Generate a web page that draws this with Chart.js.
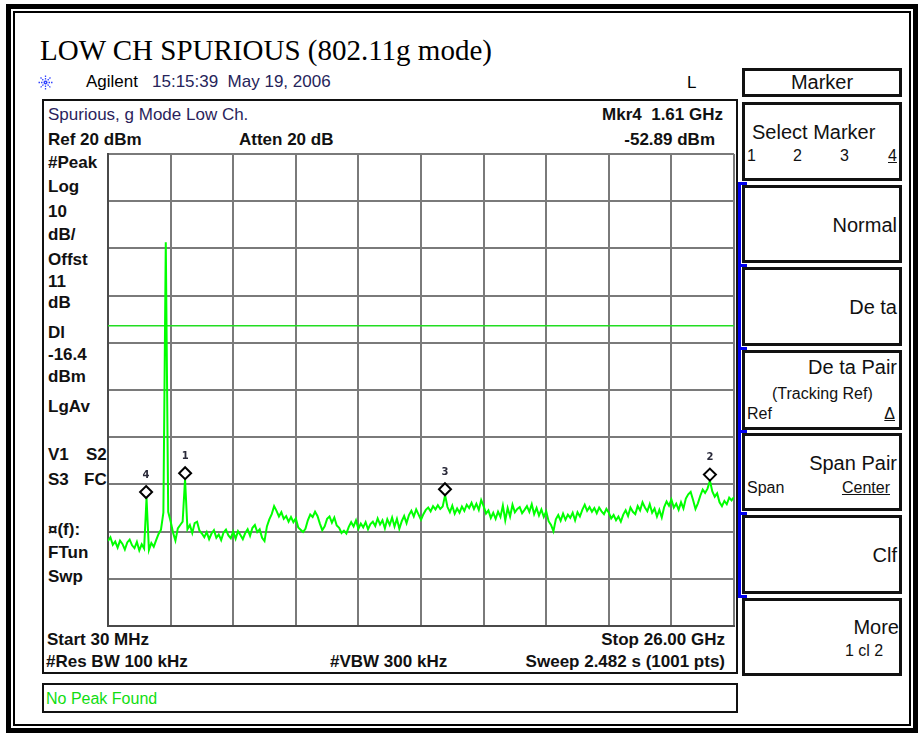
<!DOCTYPE html>
<html>
<head>
<meta charset="utf-8">
<script src="https://cdn.jsdelivr.net/npm/chart.js@4/dist/chart.umd.min.js"></script>
<style>
  html, body { margin: 0; padding: 0; background: #fff; }
  body { width: 923px; height: 738px; position: relative; overflow: hidden; font-family: "Liberation Sans", Arial, sans-serif; }
  .abs { position: absolute; white-space: pre; }
  .t17 { font-size: 17px; line-height: 20px; color: #111; }
  .b17 { font-size: 17px; line-height: 20px; font-weight: bold; color: #111; }
  .t20 { font-size: 20px; line-height: 24px; color: #111; }
  .t16 { font-size: 16px; line-height: 19px; color: #111; }
  .box { position: absolute; box-sizing: border-box; border: 3px solid #111; background: #fff; }
  .nub { position: absolute; left: 738px; width: 9px; height: 3px; background: #0000ee; }
  #grafico { position: absolute; left: 106px; top: 152px; }
</style>
</head>
<body>

<!-- marco exterior doble -->
<div style="position:absolute;left:6px;top:4px;width:912px;height:729px;box-sizing:border-box;border:5px solid #000;"></div>
<div style="position:absolute;left:13px;top:11px;width:898px;height:715px;box-sizing:border-box;border:2px solid #000;"></div>

<div class="abs" style="left:40px;top:33px;font-family:'Liberation Serif','Times New Roman',serif;font-size:29px;line-height:34px;color:#000;">LOW CH SPURIOUS (802.11g mode)</div>

<svg class="abs" style="left:38px;top:75px;" width="15" height="15" viewBox="0 0 15 15">
  <g stroke="#3344ff" stroke-width="1.3" stroke-dasharray="1.5 1">
    <line x1="7.5" y1="0.5" x2="7.5" y2="14.5"/><line x1="0.5" y1="7.5" x2="14.5" y2="7.5"/>
    <line x1="2.5" y1="2.5" x2="12.5" y2="12.5"/><line x1="12.5" y1="2.5" x2="2.5" y2="12.5"/>
  </g>
</svg>
<div class="abs t17" style="left:86px;top:72px;color:#000;">Agilent</div>
<div class="abs t17" style="left:152px;top:72px;color:#26245a;">15:15:39  May 19, 2006</div>
<div class="abs t17" style="left:687px;top:73px;color:#000;">L</div>

<!-- pantalla principal -->
<div style="position:absolute;left:42px;top:99px;width:696px;height:575px;box-sizing:border-box;border:2px solid #111;"></div>
<div class="abs t17" style="left:48px;top:105px;color:#2b1f5c;">Spurious, g Mode Low Ch.</div>
<div class="abs b17" style="left:48px;top:130px;">Ref 20 dBm</div>
<div class="abs b17" style="left:239px;top:130px;">Atten 20 dB</div>
<div class="abs b17" style="right:200px;top:105px;">Mkr4  1.61 GHz</div>
<div class="abs b17" style="right:208px;top:130px;">-52.89 dBm</div>

<div class="abs b17" style="left:48px;top:153px;">#Peak</div>
<div class="abs b17" style="left:48px;top:177px;">Log</div>
<div class="abs b17" style="left:48px;top:202px;">10</div>
<div class="abs b17" style="left:48px;top:225px;">dB/</div>
<div class="abs b17" style="left:48px;top:250px;">Offst</div>
<div class="abs b17" style="left:48px;top:272px;">11</div>
<div class="abs b17" style="left:48px;top:293px;">dB</div>
<div class="abs b17" style="left:48px;top:323px;">Dl</div>
<div class="abs b17" style="left:48px;top:345px;">-16.4</div>
<div class="abs b17" style="left:48px;top:367px;">dBm</div>
<div class="abs b17" style="left:48px;top:397px;">LgAv</div>
<div class="abs b17" style="left:48px;top:445px;">V1</div>
<div class="abs b17" style="left:86px;top:445px;">S2</div>
<div class="abs b17" style="left:48px;top:470px;">S3</div>
<div class="abs b17" style="left:84px;top:470px;">FC</div>
<div class="abs b17" style="left:48px;top:520px;">¤(f):</div>
<div class="abs b17" style="left:48px;top:543px;">FTun</div>
<div class="abs b17" style="left:48px;top:567px;">Swp</div>

<div class="abs b17" style="left:47px;top:630px;">Start 30 MHz</div>
<div class="abs b17" style="right:198px;top:630px;">Stop 26.00 GHz</div>
<div class="abs b17" style="left:46px;top:652px;">#Res BW 100 kHz</div>
<div class="abs b17" style="left:330px;top:652px;">#VBW 300 kHz</div>
<div class="abs b17" style="right:198px;top:652px;">Sweep 2.482 s (1001 pts)</div>

<div style="position:absolute;left:42px;top:683px;width:696px;height:30px;box-sizing:border-box;border:2px solid #111;"></div>
<div class="abs t16" style="left:46px;top:689px;color:#11dd11;">No Peak Found</div>

<canvas id="grafico" width="630" height="476"></canvas>

<!-- teclas -->
<div class="box" style="left:742px;top:68px;width:160px;height:29px;"></div>
<div class="box" style="left:742px;top:102px;width:160px;height:79px;"></div>
<div class="box" style="left:742px;top:185px;width:160px;height:78px;"></div>
<div class="box" style="left:742px;top:267px;width:160px;height:79px;"></div>
<div class="box" style="left:742px;top:350px;width:160px;height:80px;"></div>
<div class="box" style="left:742px;top:433px;width:160px;height:78px;"></div>
<div class="box" style="left:742px;top:515px;width:160px;height:79px;"></div>
<div class="box" style="left:742px;top:598px;width:160px;height:78px;"></div>
<div style="position:absolute;left:738px;top:182px;width:3px;height:415px;background:#0000ee;"></div>
<div class="nub" style="top:182px;"></div>
<div class="nub" style="top:264px;"></div>
<div class="nub" style="top:347px;"></div>
<div class="nub" style="top:430px;"></div>
<div class="nub" style="top:512px;"></div>
<div class="nub" style="top:595px;"></div>

<div class="abs t20" style="left:742px;width:160px;text-align:center;top:70px;">Marker</div>
<div class="abs t20" style="left:752px;top:120px;">Select Marker</div>
<div class="abs t16" style="left:747px;top:146px;">1</div>
<div class="abs t16" style="left:793px;top:146px;">2</div>
<div class="abs t16" style="left:840px;top:146px;">3</div>
<div class="abs t16" style="left:888px;top:146px;text-decoration:underline;">4</div>
<div class="abs t20" style="right:26px;top:213px;">Normal</div>
<div class="abs t20" style="right:26px;top:295px;">De ta</div>
<div class="abs t20" style="right:26px;top:355px;">De ta Pair</div>
<div class="abs t16" style="left:772px;top:384px;">(Tracking Ref)</div>
<div class="abs t16" style="left:747px;top:404px;">Ref</div>
<div class="abs t16" style="right:28px;top:404px;text-decoration:underline;">Δ</div>
<div class="abs t20" style="right:26px;top:451px;">Span Pair</div>
<div class="abs t16" style="left:747px;top:478px;">Span</div>
<div class="abs t16" style="right:33px;top:478px;text-decoration:underline;">Center</div>
<div class="abs t20" style="right:26px;top:543px;">Clf</div>
<div class="abs t20" style="right:24px;top:615px;">More</div>
<div class="abs t16" style="left:845px;top:641px;">1 cl 2</div>

<script>
// barrido 30 MHz - 26 GHz (dBm)
const startGHz = 0.03;
const stopGHz = 26.0;
const refLevel = 20;
const bottomLevel = -80;
const numDivs = 10;
const displayLine = -16.4;

const traceDbm = [
  -62.0, -61.2, -62.8, -62.1, -63.4, -61.9, -62.6, -63.8, -62.3, -61.7,
  -62.9, -63.5, -62.2, -64.0, -62.7, -63.6, -52.9, -63.9, -62.4, -63.2,
  -61.8, -60.5, -59.6, -56.0, 1.3, -55.8, -57.8, -60.2, -61.9, -59.3,
  -58.6, -57.9, -48.9, -59.5, -58.6, -60.3, -58.2, -57.9, -59.8, -60.4,
  -61.2, -60.1, -61.6, -60.4, -59.7, -61.3, -60.6, -61.8, -60.2, -59.6,
  -60.8, -61.4, -60.0, -61.5, -59.9, -60.7, -61.6, -60.3, -59.5, -60.9,
  -59.2, -58.6, -60.1, -59.5, -61.3, -62.0, -58.9, -57.4, -56.3, -54.6,
  -55.6, -56.8, -55.9, -57.3, -56.7, -57.9, -56.9, -58.0, -57.2, -59.1,
  -59.6, -60.1, -59.4, -57.6, -56.4, -56.9, -55.8, -56.7, -58.3, -59.7,
  -58.9, -57.3, -56.8, -58.1, -57.0, -58.7, -59.2, -60.3, -59.8, -60.4,
  -59.0, -58.0, -58.9, -57.6, -59.4, -58.3, -59.1, -58.0, -59.5, -58.4,
  -57.9, -58.8, -57.2, -58.5, -57.6, -59.3, -57.4, -58.6, -57.0, -58.9,
  -57.3, -59.4, -57.8, -56.7, -58.2, -56.5, -55.6, -56.8, -55.3, -56.4,
  -57.5, -56.3, -55.4, -54.9, -55.7, -54.6, -55.3, -54.4, -55.2, -54.7,
  -52.3, -54.8, -55.9, -54.5, -56.2, -55.1, -56.0, -54.7, -55.6, -54.3,
  -55.0, -53.9, -55.2, -54.1, -55.4, -53.3, -54.6, -56.2, -55.5, -57.1,
  -56.0, -57.3, -55.8, -56.9, -54.5, -57.6, -55.0, -56.8, -54.3, -55.9,
  -55.2, -54.8, -56.1, -55.4, -54.6, -55.8, -54.2, -56.3, -55.0, -56.6,
  -55.3, -56.9, -55.7, -57.8, -58.6, -59.9, -57.4, -56.5, -57.7, -56.2,
  -57.5, -56.4, -57.1, -56.0, -57.6, -55.9, -56.8, -55.4, -54.3, -55.6,
  -54.8, -55.8, -55.0, -56.1, -54.9, -55.7, -56.3, -55.2, -56.0, -57.2,
  -56.5, -57.6, -56.8, -57.9, -56.4, -55.5, -56.7, -54.9, -55.8, -56.3,
  -54.6, -55.5, -53.8, -54.9, -55.7, -54.2, -56.0, -55.1, -56.8, -55.4,
  -57.0, -54.8, -53.6, -54.5, -53.2, -54.9, -54.1, -55.4, -53.8, -55.1,
  -53.0, -52.1, -51.6, -53.3, -55.2, -54.0, -52.4, -51.1, -51.8, -50.9,
  -49.2, -51.5, -52.6, -51.9, -53.8, -54.6, -53.5, -54.2, -52.8, -53.4,
  -52.7
];

const markerIds = ["1", "2", "3", "4"];
const markerGHz = [3.23, 25.0, 14.01, 1.61];
const markerDbm = [-48.9, -49.2, -52.3, -52.89];

const paso = (stopGHz - startGHz) / (traceDbm.length - 1);
const puntos = traceDbm.map((v, i) => ({ x: startGHz + i * paso, y: v }));

// rombos de marcador con su numero encima
const marcadores = {
  id: "marcadores",
  afterDatasetsDraw(chart) {
    const ctx = chart.ctx;
    const xs = chart.scales.x, ys = chart.scales.y;
    ctx.save();
    markerIds.forEach((id, i) => {
      const px = xs.getPixelForValue(markerGHz[i]);
      const py = ys.getPixelForValue(markerDbm[i]) - 6;
      ctx.beginPath();
      ctx.moveTo(px, py - 6);
      ctx.lineTo(px + 6, py);
      ctx.lineTo(px, py + 6);
      ctx.lineTo(px - 6, py);
      ctx.closePath();
      ctx.fillStyle = "#fff";
      ctx.fill();
      ctx.lineWidth = 2;
      ctx.strokeStyle = "#000";
      ctx.stroke();
      ctx.fillStyle = "#2a2a3a";
      ctx.font = "bold 10px 'DejaVu Sans'";
      ctx.textAlign = "center";
      ctx.textBaseline = "middle";
      ctx.fillText(id, px, py - 17);
    });
    ctx.restore();
  }
};

const ejeComun = {
  ticks: { display: false },
  grid: { color: "#7a7a7a", lineWidth: 2, drawTicks: false },
  border: { display: true, color: "#4a4a4a", width: 2 }
};

new Chart(document.getElementById("grafico").getContext("2d"), {
  type: "line",
  data: {
    datasets: [{
      data: puntos,
      borderColor: "#00ff00",
      borderWidth: 2,
      pointRadius: 0,
      tension: 0
    }, {
      data: [{ x: startGHz, y: displayLine }, { x: stopGHz, y: displayLine }],
      borderColor: "#22dd22",
      borderWidth: 1.5,
      pointRadius: 0
    }]
  },
  options: {
    responsive: false,
    animation: false,
    layout: { padding: 2 },
    plugins: { legend: { display: false }, tooltip: { enabled: false } },
    scales: {
      x: {
        ...ejeComun,
        type: "linear",
        min: startGHz,
        max: stopGHz,
        afterBuildTicks: (eje) => {
          const ancho = (stopGHz - startGHz) / numDivs;
          eje.ticks = Array.from({ length: numDivs + 1 }, (_, k) => ({ value: startGHz + k * ancho }));
        }
      },
      y: {
        ...ejeComun,
        min: bottomLevel,
        max: refLevel,
        ticks: { display: false, stepSize: 10 }
      }
    }
  },
  plugins: [marcadores]
});
</script>
</body>
</html>
